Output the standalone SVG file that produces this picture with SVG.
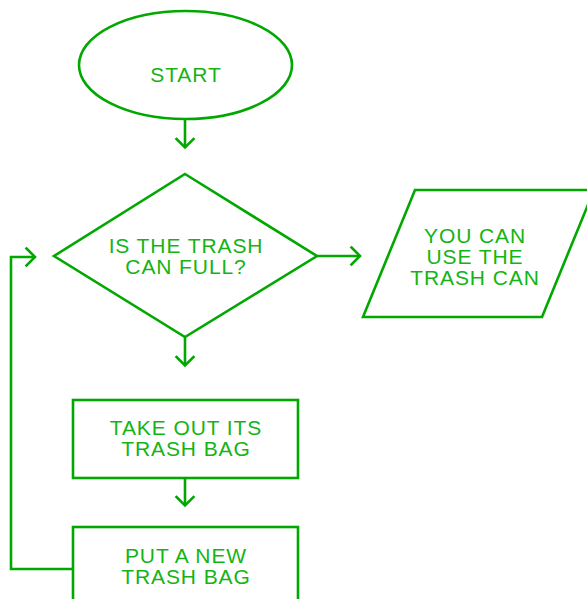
<svg xmlns="http://www.w3.org/2000/svg" width="587" height="599" viewBox="0 0 587 599">
<style>
.shape{fill:#fff;stroke:#00a800;stroke-width:2.6}
.line{fill:none;stroke:#00a800;stroke-width:2.6}
.arr{fill:none;stroke:#00a800;stroke-width:2.6;stroke-linecap:square}
text{font-family:"Liberation Sans",Arial,sans-serif;font-size:21px;fill:#14b414;text-anchor:middle;letter-spacing:0.9px}
</style>
<rect width="587" height="599" fill="#fff"/>
<g id="connectors">
<path class="line" d="M185 119V147"/>
<path class="arr" d="M176.5 139L185 147.5L193.5 139"/>
<path class="line" d="M185 337V365"/>
<path class="arr" d="M176.5 357L185 365.5L193.5 357"/>
<path class="line" d="M317 256H360"/>
<path class="arr" d="M351.5 247.5L360 256L351.5 264.5"/>
<path class="line" d="M185 478V505"/>
<path class="arr" d="M176.5 497L185 505.5L193.5 497"/>
<path class="line" d="M73 569H11V257H35"/>
<path class="arr" d="M26.5 248.5L35 257L26.5 265.5"/>
</g>
<g id="start">
<ellipse class="shape" cx="185.5" cy="65" rx="106.5" ry="54"/>
<text x="186" y="82">START</text>
</g>
<g id="decision">
<polygon class="shape" points="185,174 317,256 185,337 54,256"/>
<text x="186" y="253">IS THE TRASH</text>
<text x="186" y="274">CAN FULL?</text>
</g>
<g id="use">
<polygon class="shape" points="415,190 594,190 542,317 363,317"/>
<text x="475" y="243">YOU CAN</text>
<text x="475" y="264">USE THE</text>
<text x="475" y="285">TRASH CAN</text>
</g>
<g id="takeout">
<rect class="shape" x="73" y="400" width="225" height="78"/>
<text x="186" y="435">TAKE OUT ITS</text>
<text x="186" y="456">TRASH BAG</text>
</g>
<g id="putnew">
<rect class="shape" x="73" y="527" width="225" height="90"/>
<text x="186" y="563">PUT A NEW</text>
<text x="186" y="584">TRASH BAG</text>
</g>
</svg>
